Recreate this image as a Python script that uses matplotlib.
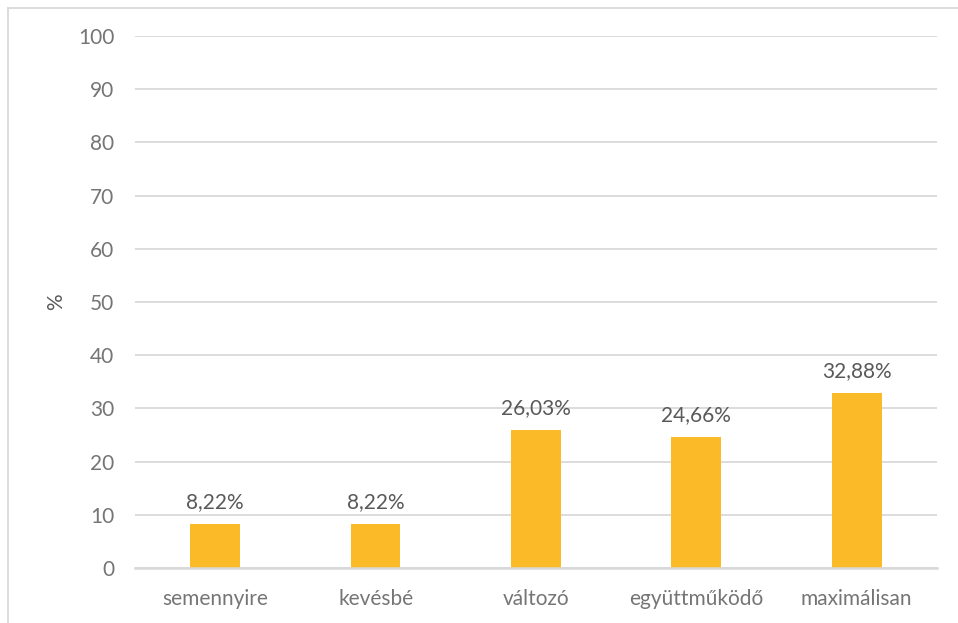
import matplotlib
matplotlib.use("Agg")
import matplotlib.pyplot as plt
from matplotlib.lines import Line2D

categories = ["semennyire", "kevésbé", "változó", "együttműködő", "maximálisan"]
values = [8.22, 8.22, 26.03, 24.66, 32.88]
yticks = [0, 10, 20, 30, 40, 50, 60, 70, 80, 90, 100]

plt.rcParams['font.family'] = ['Lato', 'DejaVu Sans']

fig = plt.figure(figsize=(9.58, 6.23), dpi=100)
ax = fig.add_axes([0.1409, 0.0883, 0.978 - 0.1409, 0.9422 - 0.0883])

x = range(len(categories))
ax.bar(x, values, width=0.31, color='#FBBA27', zorder=3)

for i, v in enumerate(values):
    ax.text(i, v + 2.2, f"{v:.2f}%".replace('.', ','), ha='center', va='bottom',
            fontsize=15, color='#595959')

ax.set_xlim(-0.5, len(categories) - 0.5)
ax.set_ylim(0, 100)
ax.set_yticks(yticks)
ax.set_xticks(list(x))
ax.set_xticklabels(categories)
ax.tick_params(axis='both', length=0, labelsize=15, labelcolor='#757575')
ax.tick_params(axis='y', pad=15)
ax.tick_params(axis='x', pad=15)
ax.grid(axis='y', color='#D9D9D9', linewidth=1.3, zorder=0)
for s in ['top', 'right', 'left']:
    ax.spines[s].set_visible(False)
ax.spines['bottom'].set_color('#D9D9D9')
ax.spines['bottom'].set_linewidth(1.8)
ax.spines['bottom'].set_zorder(4)

ax.set_ylabel('%', fontsize=15, color='#595959')
ax.yaxis.set_label_coords(-0.086, 0.5)

# chart frame (left and top edges visible)
fig.add_artist(Line2D([7.5 / 958, 7.5 / 958], [0, 1 - 7.5 / 623], transform=fig.transFigure,
                      color='#D9D9D9', linewidth=1.3))
fig.add_artist(Line2D([7.5 / 958, 1], [1 - 7.5 / 623, 1 - 7.5 / 623], transform=fig.transFigure,
                      color='#D9D9D9', linewidth=1.3))

fig.savefig('out.png', dpi=100)
